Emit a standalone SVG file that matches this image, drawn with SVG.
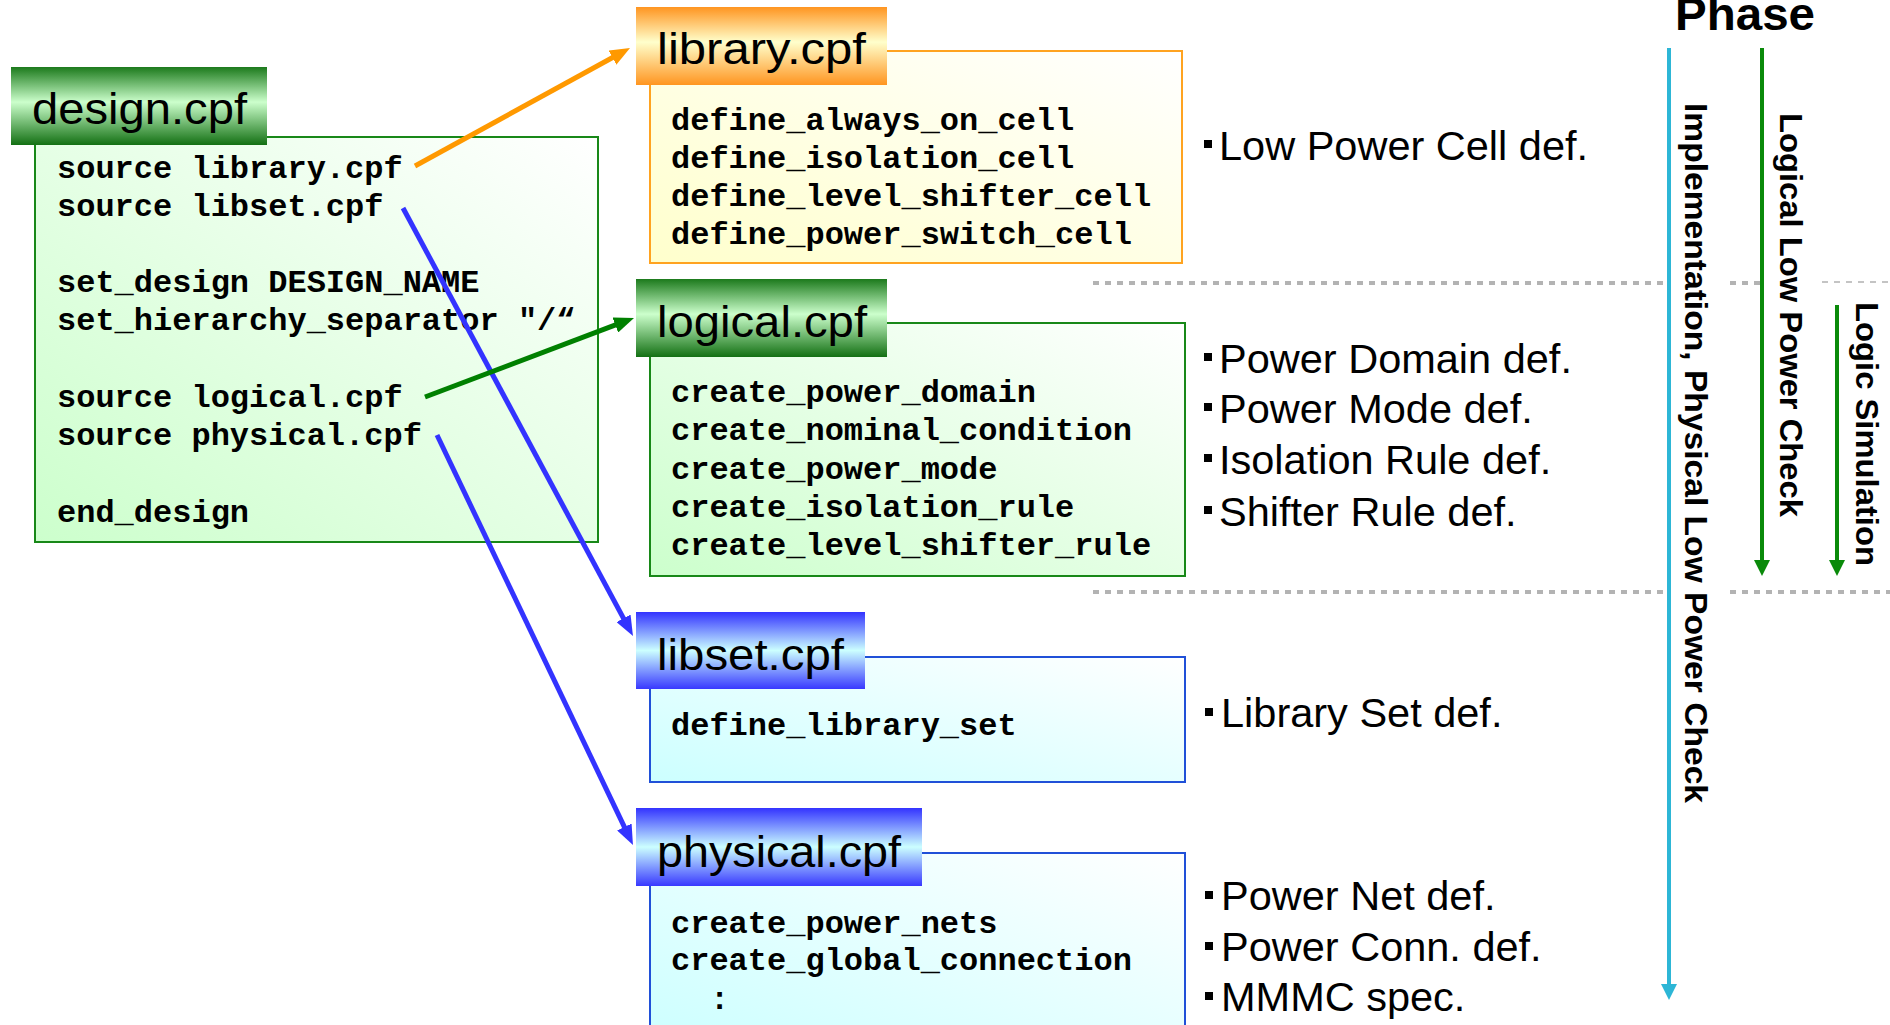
<svg xmlns="http://www.w3.org/2000/svg" width="1890" height="1025" viewBox="0 0 1890 1025">
  <defs>
    <!-- title tab fills: dark edge, pale centre -->
    <linearGradient id="hdrGreen" x1="0" y1="0" x2="0" y2="1">
      <stop offset="0" stop-color="#1c7a1c"/>
      <stop offset="0.45" stop-color="#ccffcc"/>
      <stop offset="1" stop-color="#137013"/>
    </linearGradient>
    <linearGradient id="hdrOrange" x1="0" y1="0" x2="0" y2="1">
      <stop offset="0" stop-color="#ff9520"/>
      <stop offset="0.45" stop-color="#ffffcc"/>
      <stop offset="1" stop-color="#ff9520"/>
    </linearGradient>
    <linearGradient id="hdrBlue" x1="0" y1="0" x2="0" y2="1">
      <stop offset="0" stop-color="#3333ff"/>
      <stop offset="0.5" stop-color="#ccffff"/>
      <stop offset="1" stop-color="#3838ff"/>
    </linearGradient>
    <!-- body fills: white top-right fading to tint bottom-left -->
    <linearGradient id="bodyGreen" x1="1" y1="0" x2="0" y2="1">
      <stop offset="0" stop-color="#ffffff"/>
      <stop offset="1" stop-color="#ccffcc"/>
    </linearGradient>
    <linearGradient id="bodyYellow" x1="1" y1="0" x2="0" y2="1">
      <stop offset="0" stop-color="#ffffff"/>
      <stop offset="1" stop-color="#ffffcc"/>
    </linearGradient>
    <linearGradient id="bodyCyan" x1="1" y1="0" x2="0" y2="1">
      <stop offset="0" stop-color="#ffffff"/>
      <stop offset="1" stop-color="#ccffff"/>
    </linearGradient>
    <marker id="headOrange" viewBox="0 0 20 16" markerWidth="20" markerHeight="16" markerUnits="userSpaceOnUse" refX="8" refY="8" orient="auto">
      <path d="M0,0 L20,8 L0,16 z" fill="#ff9900"/>
    </marker>
    <marker id="headGreen" viewBox="0 0 20 16" markerWidth="20" markerHeight="16" markerUnits="userSpaceOnUse" refX="8" refY="8" orient="auto">
      <path d="M0,0 L20,8 L0,16 z" fill="#008000"/>
    </marker>
    <marker id="headBlue" viewBox="0 0 20 16" markerWidth="20" markerHeight="16" markerUnits="userSpaceOnUse" refX="8" refY="8" orient="auto">
      <path d="M0,0 L20,8 L0,16 z" fill="#3333ff"/>
    </marker>
    <marker id="headCyan" viewBox="0 0 16 16" markerWidth="16" markerHeight="16" markerUnits="userSpaceOnUse" refX="4" refY="8" orient="auto">
      <path d="M0,0 L16,8 L0,16 z" fill="#2db6d6"/>
    </marker>
    <marker id="headDkGreen" viewBox="0 0 16 16" markerWidth="16" markerHeight="16" markerUnits="userSpaceOnUse" refX="4" refY="8" orient="auto">
      <path d="M0,0 L16,8 L0,16 z" fill="#0a8a0a"/>
    </marker>
  </defs>
  <style>
    .code { font-family: "Liberation Mono", "Courier New", monospace; font-weight: bold; font-size: 32px; fill: #000; }
    .title { font-family: "Liberation Sans", Arial, sans-serif; font-size: 45px; fill: #000; }
    .note { font-family: "Liberation Sans", Arial, sans-serif; font-size: 41.5px; fill: #000; }
    .phase { font-family: "Liberation Sans", Arial, sans-serif; font-weight: bold; fill: #000; }
    .bullet { fill: #000; }
    .dots { stroke: #b3b3b3; stroke-width: 4; stroke-dasharray: 6 6; fill: none; }
    .boxG { stroke: #188818; stroke-width: 2; }
    .boxO { stroke: #ffa320; stroke-width: 2; }
    .boxB { stroke: #2050d8; stroke-width: 2; }
    .conn { fill: none; stroke-width: 5; }
  </style>

  <rect width="1890" height="1025" fill="#ffffff"/>

  <!-- phase separators -->
  <g id="separators">
    <line class="dots" x1="1093" y1="283" x2="1665" y2="283"/>
    <line class="dots" x1="1730" y1="283" x2="1760" y2="283"/>
    <line class="dots" x1="1822" y1="282" x2="1890" y2="282" style="stroke-width:2;stroke:#c4c4c4"/>
    <line class="dots" x1="1093" y1="592" x2="1665" y2="592"/>
    <line class="dots" x1="1730" y1="592" x2="1890" y2="592"/>
  </g>

  <g id="design">
    <rect x="35" y="137" width="563" height="405" fill="url(#bodyGreen)" class="boxG"/>
    <rect x="11" y="67" width="256" height="78" fill="url(#hdrGreen)"/>
    <text class="title" x="32" y="124" textLength="215" lengthAdjust="spacingAndGlyphs">design.cpf</text>
    <text class="code" x="57" y="178">source library.cpf</text>
    <text class="code" x="57" y="216">source libset.cpf</text>
    <text class="code" x="57" y="292">set_design DESIGN_NAME</text>
    <text class="code" x="57" y="330">set_hierarchy_separator "/“</text>
    <text class="code" x="57" y="407">source logical.cpf</text>
    <text class="code" x="57" y="445">source physical.cpf</text>
    <text class="code" x="57" y="522">end_design</text>
  </g>

  <g id="library">
    <rect x="650" y="51" width="532" height="212" fill="url(#bodyYellow)" class="boxO"/>
    <rect x="636" y="7" width="251" height="78" fill="url(#hdrOrange)"/>
    <text class="title" x="657" y="64" textLength="209" lengthAdjust="spacingAndGlyphs">library.cpf</text>
    <text class="code" x="671" y="130">define_always_on_cell</text>
    <text class="code" x="671" y="168">define_isolation_cell</text>
    <text class="code" x="671" y="206">define_level_shifter_cell</text>
    <text class="code" x="671" y="244">define_power_switch_cell</text>
  </g>

  <g id="logical">
    <rect x="650" y="323" width="535" height="253" fill="url(#bodyGreen)" class="boxG"/>
    <rect x="636" y="279" width="251" height="78" fill="url(#hdrGreen)"/>
    <text class="title" x="657" y="337" textLength="210" lengthAdjust="spacingAndGlyphs">logical.cpf</text>
    <text class="code" x="671" y="402">create_power_domain</text>
    <text class="code" x="671" y="440">create_nominal_condition</text>
    <text class="code" x="671" y="479">create_power_mode</text>
    <text class="code" x="671" y="517">create_isolation_rule</text>
    <text class="code" x="671" y="555">create_level_shifter_rule</text>
  </g>

  <g id="libset">
    <rect x="650" y="657" width="535" height="125" fill="url(#bodyCyan)" class="boxB"/>
    <rect x="636" y="612" width="229" height="77" fill="url(#hdrBlue)"/>
    <text class="title" x="657" y="670" textLength="187" lengthAdjust="spacingAndGlyphs">libset.cpf</text>
    <text class="code" x="671" y="735">define_library_set</text>
  </g>

  <g id="physical">
    <rect x="650" y="853" width="535" height="190" fill="url(#bodyCyan)" class="boxB"/>
    <rect x="636" y="808" width="286" height="78" fill="url(#hdrBlue)"/>
    <text class="title" x="657" y="867" textLength="244" lengthAdjust="spacingAndGlyphs">physical.cpf</text>
    <text class="code" x="671" y="933">create_power_nets</text>
    <text class="code" x="671" y="970">create_global_connection</text>
    <text class="code" x="710" y="1009">:</text>
  </g>

  <!-- what each file defines -->
  <g id="notes">
    <rect class="bullet" x="1204" y="140" width="8" height="8"/>
    <text class="note" x="1219" y="160">Low Power Cell def.</text>
    <rect class="bullet" x="1204" y="353" width="8" height="8"/>
    <text class="note" x="1219" y="373">Power Domain def.</text>
    <rect class="bullet" x="1204" y="403" width="8" height="8"/>
    <text class="note" x="1219" y="423">Power Mode def.</text>
    <rect class="bullet" x="1204" y="454" width="8" height="8"/>
    <text class="note" x="1219" y="474">Isolation Rule def.</text>
    <rect class="bullet" x="1204" y="506" width="8" height="8"/>
    <text class="note" x="1219" y="526">Shifter Rule def.</text>
    <rect class="bullet" x="1205" y="708" width="8" height="8"/>
    <text class="note" x="1221" y="727">Library Set def.</text>
    <rect class="bullet" x="1205" y="891" width="8" height="8"/>
    <text class="note" x="1221" y="910">Power Net def.</text>
    <rect class="bullet" x="1205" y="942" width="8" height="8"/>
    <text class="note" x="1221" y="961">Power Conn. def.</text>
    <rect class="bullet" x="1205" y="992" width="8" height="8"/>
    <text class="note" x="1221" y="1011">MMMC spec.</text>
  </g>

  <!-- verification phases -->
  <g id="phases">
    <text class="phase" x="1675" y="30" font-size="46" textLength="140" lengthAdjust="spacingAndGlyphs">Phase</text>
    <line x1="1669" y1="48" x2="1669" y2="988" stroke="#2db6d6" stroke-width="4" marker-end="url(#headCyan)"/>
    <line x1="1762" y1="48" x2="1762" y2="564" stroke="#0a8a0a" stroke-width="4" marker-end="url(#headDkGreen)"/>
    <line x1="1837" y1="305" x2="1837" y2="564" stroke="#0a8a0a" stroke-width="4" marker-end="url(#headDkGreen)"/>
    <text class="phase" font-size="32" transform="translate(1685,103) rotate(90)" textLength="700" lengthAdjust="spacingAndGlyphs">Implementation, Physical Low Power Check</text>
    <text class="phase" font-size="32" transform="translate(1780,113) rotate(90)" textLength="404" lengthAdjust="spacingAndGlyphs">Logical Low Power Check</text>
    <text class="phase" font-size="32" transform="translate(1856,302) rotate(90)" textLength="264" lengthAdjust="spacingAndGlyphs">Logic Simulation</text>
  </g>

  <!-- source links from design.cpf -->
  <g id="connectors">
    <line class="conn" x1="415" y1="166" x2="619.5" y2="53.8" stroke="#ff9900" marker-end="url(#headOrange)"/>
    <line class="conn" x1="403" y1="208" x2="627.3" y2="625.4" stroke="#3333ff" marker-end="url(#headBlue)"/>
    <line class="conn" x1="425" y1="397" x2="622.8" y2="322.2" stroke="#008000" marker-end="url(#headGreen)"/>
    <line class="conn" x1="437" y1="435" x2="627.8" y2="834.2" stroke="#3333ff" marker-end="url(#headBlue)"/>
  </g>
</svg>
